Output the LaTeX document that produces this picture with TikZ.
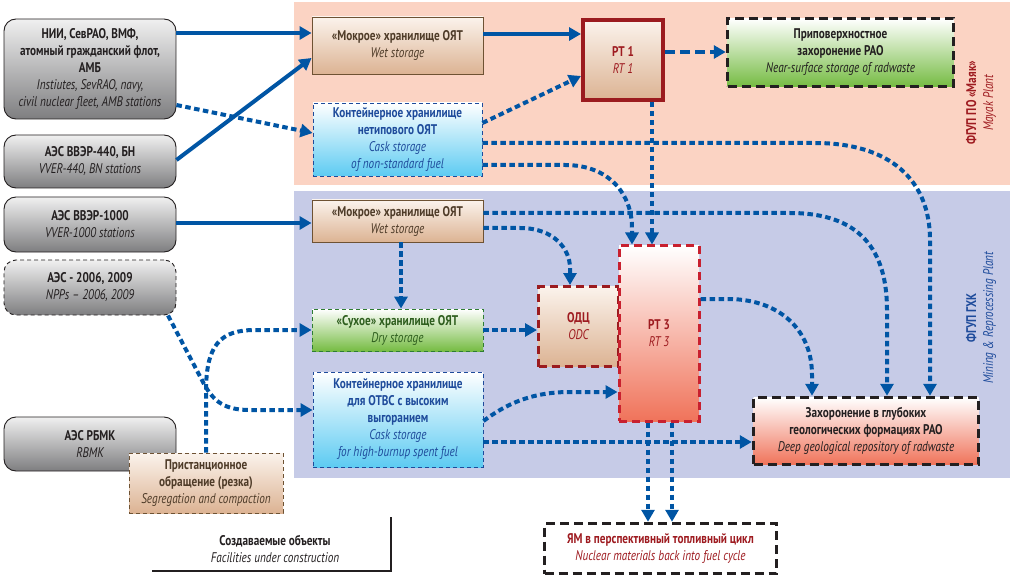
\documentclass[tikz,border=0pt]{standalone}
\usepackage{fontspec}
\setmainfont{PT Sans}[FakeStretch=0.8]
\usepackage{tikz}
\usetikzlibrary{calc,arrows.meta}
\definecolor{mayakBg}{HTML}{FBD3C3}
\definecolor{ghkBg}{HTML}{C6CBE7}
\definecolor{flow}{HTML}{0055A4}
\definecolor{ink}{HTML}{231F20}
\definecolor{brownInk}{HTML}{4E3B28}
\definecolor{blueInk}{HTML}{1E4B9B}
\definecolor{greenInk}{HTML}{2E5E1E}
\definecolor{redInk}{HTML}{9E1B20}
\definecolor{tanTop}{HTML}{FBF3EC}
\definecolor{tanBot}{HTML}{DCB393}
\definecolor{tanEdge}{HTML}{6E5233}
\definecolor{grayTop}{HTML}{F0F0F0}
\definecolor{grayBot}{HTML}{7E7E80}
\definecolor{skyBot}{HTML}{5DCBF2}
\definecolor{leafBot}{HTML}{76BC43}
\definecolor{leafEdge}{HTML}{2E7D32}
\definecolor{salmonBot}{HTML}{F0735A}
\definecolor{rtEdge}{HTML}{9B1B1F}
\definecolor{rtDash}{HTML}{C8202F}
\tikzset{
  unit/.style={inner sep=0pt, align=center, font=\fontsize{14}{17}\selectfont},
  srcBox/.style={unit, draw=ink, line width=0.9pt, rounded corners=12pt, top color=grayTop, bottom color=grayBot, text=ink},
  srcPlan/.style={srcBox, dash pattern=on 4pt off 3pt},
  tanBox/.style={unit, draw=tanEdge, line width=0.9pt, top color=tanTop, bottom color=tanBot, text=brownInk},
  tanPlan/.style={tanBox, dash pattern=on 4pt off 3pt},
  caskBox/.style={unit, draw=blueInk, line width=0.9pt, dash pattern=on 4pt off 3pt, top color=white, bottom color=skyBot, text=blueInk},
  dryBox/.style={unit, draw=leafEdge, line width=0.9pt, dash pattern=on 4pt off 3pt, top color=white, bottom color=leafBot, text=greenInk},
  rtBox/.style={unit, draw=rtEdge, line width=4pt, top color=tanTop, bottom color=tanBot, text=redInk},
  odcBox/.style={unit, draw=rtEdge, line width=3pt, dash pattern=on 8pt off 5pt, top color=tanTop, bottom color=tanBot, text=redInk},
  rtPlan/.style={unit, draw=rtDash, line width=3pt, dash pattern=on 8pt off 5pt, top color=white, bottom color=salmonBot, text=redInk},
  wasteBox/.style={unit, draw=ink, line width=3.5pt, dash pattern=on 9pt off 5pt, text=ink},
  sideLab/.style={align=center, rotate=90, font=\fontsize{14}{17}\selectfont},
  flowSolid/.style={draw=flow, line width=4pt, -{Triangle[length=12pt,width=13pt]}},
  flowDot/.style={draw=flow, line width=4pt, dash pattern=on 5.5pt off 3.5pt, -{Triangle[length=12pt,width=13pt]}},
  flowDash/.style={flowDot, dash pattern=on 10pt off 5pt}
}
\begin{document}
\begin{tikzpicture}[x=1pt,y=-1pt]
  \useasboundingbox (0,0) rectangle (1012,580);

  % plant areas
  \fill[mayakBg] (294,2) rectangle (1010,185);
  \fill[ghkBg] (294,191) rectangle (1010,478);
  \node[sideLab, text=redInk] (mayakLab) at (981,103) {\bfseries ФГУП ПО «Маяк»\\\itshape Mayak Plant};
  \node[sideLab, text=blueInk] (ghkLab) at (981,318) {\bfseries ФГУП ГХК\\\itshape Mining \& Reprocessing Plant};

  % sources
  \node[srcBox, minimum width=172pt, minimum height=100pt] (nii) at (90,69)
    {\bfseries НИИ, СевРАО, ВМФ,\\\bfseries атомный гражданский флот,\\\bfseries АМБ\\\itshape Instiutes, SevRAO, navy,\\\itshape civil nuclear fleet, AMB stations};
  \node[srcBox, minimum width=172pt, minimum height=53pt] (vverA) at (90,161.5)
    {\bfseries АЭС ВВЭР-440, БН\\\itshape VVER-440, BN stations};
  \node[srcBox, minimum width=172pt, minimum height=55pt] (vverB) at (90,224.5)
    {\bfseries АЭС ВВЭР-1000\\\itshape VVER-1000 stations};
  \node[srcPlan, minimum width=172pt, minimum height=55pt] (nppNew) at (90,287.5)
    {\bfseries АЭС - 2006, 2009\\\itshape NPPs – 2006, 2009};
  \node[srcBox, minimum width=172pt, minimum height=54pt] (rbmk) at (90,444)
    {\bfseries АЭС РБМК\\\itshape RBMK};
  \node[tanPlan, minimum width=154pt, minimum height=60pt] (segr) at (206,483)
    {\bfseries Пристанционное\\\bfseries обращение (резка)\\\itshape Segregation and compaction};

  % Mayak
  \node[tanBox, minimum width=171pt, minimum height=57pt] (wetM) at (397.5,45.5)
    {\bfseries «Мокрое» хранилище ОЯТ\\\itshape Wet storage};
  \node[caskBox, minimum width=169pt, minimum height=73pt] (caskM) at (397.5,139.5)
    {\bfseries Контейнерное хранилище\\\bfseries нетипового ОЯТ\\\itshape Cask storage\\\itshape of non-standard fuel};
  \node[rtBox, minimum width=80pt, minimum height=80pt] (rtOne) at (623,60)
    {\bfseries РТ 1\\\itshape RT 1};
  \node[wasteBox, top color=white, bottom color=leafBot, minimum width=226pt, minimum height=68pt] (nearSurf) at (840.5,52.5)
    {\bfseries Приповерхностное\\\bfseries захоронение РАО\\\itshape Near-surface storage of radwaste};

  % GKhK
  \node[tanBox, minimum width=171pt, minimum height=42pt] (wetG) at (397.5,221)
    {\bfseries «Мокрое» хранилище ОЯТ\\\itshape Wet storage};
  \node[dryBox, minimum width=171pt, minimum height=42pt] (dryG) at (397.5,330)
    {\bfseries «Сухое» хранилище ОЯТ\\\itshape Dry storage};
  \node[caskBox, minimum width=170pt, minimum height=95pt] (caskG) at (398,419.5)
    {\bfseries Контейнерное хранилище\\\bfseries для ОТВС с высоким\\\bfseries выгоранием\\\itshape Cask storage\\\itshape for high-burnup spent fuel};
  \node[odcBox, minimum width=80pt, minimum height=80pt] (odc) at (578.5,326.5)
    {\bfseries ОДЦ\\\itshape ODC};
  \node[rtPlan, minimum width=80pt, minimum height=175pt] (rtThree) at (659,333.5)
    {\bfseries РТ 3\\\itshape RT 3};
  \node[wasteBox, top color=white, bottom color=salmonBot, minimum width=225pt, minimum height=67pt] (deepRep) at (866,431)
    {\bfseries Захоронение в глубоких\\\bfseries геологических формациях РАО\\\itshape Deep geological repository of radwaste};
  \node[wasteBox, fill=white, text=redInk, minimum width=232pt, minimum height=50pt] (fuelCycle) at (660.5,548.5)
    {\bfseries ЯМ в перспективный топливный цикл\\\itshape Nuclear materials back into fuel cycle};

  % legend
  \node[unit, text=ink] (legend) at (275,549) {\bfseries Создаваемые объекты\\\itshape Facilities under construction};
  \coordinate (legTop) at (391,517);
  \coordinate (legEnd) at (152,571);
  \draw[ink, line width=2.5pt] (legTop) |- (legEnd);

  % existing routes
  \draw[flowSolid] (nii.east |- 0,33) -- (wetM.west |- 0,33);
  \draw[flowSolid] (vverA.east |- 0,160) -- (wetM.west |- 0,58);
  \draw[flowSolid] (wetM.east |- 0,34) -- (rtOne.west |- 0,34);
  \draw[flowSolid] (vverB.east |- 0,223) -- (wetG.west |- 0,223);

  % planned routes
  \draw[flowDot] (nii.east |- 0,105) -- (caskM.west |- 0,133);
  \draw[flowDot] (caskM.east |- 0,123) -- (rtOne.west |- 0,76);
  \draw[flowDash] (rtOne.east |- 0,52) -- (nearSurf.west |- 0,52);
  \draw[flowDot] (caskM.east |- 0,143) -- (815,143) .. controls (890,143) and (930,180) .. (930,240) -- (deepRep.north -| 930,0);
  \draw[flowDot] (wetG.east |- 0,213) -- (790,213) .. controls (860,213) and (887,250) .. (887,310) -- (deepRep.north -| 887,0);
  \draw[flowDot] (rtThree.east |- 0,299) -- (730,299) .. controls (780,300) and (812,330) .. (812,375) -- (deepRep.north -| 812,0);
  \draw[flowDot] (caskM.east |- 0,165) -- (565,165) .. controls (610,165) and (632,195) .. (632,228) -- (rtThree.north -| 632,0);
  \draw[flowDot] (rtOne.south -| 652,0) -- (rtThree.north -| 652,0);
  \draw[flowDot] (wetG.east |- 0,228) -- (520,228) .. controls (555,228) and (570,250) .. (570,268) -- (odc.north -| 570,0);
  \draw[flowDot] (wetG.south -| 401,0) -- (dryG.north -| 401,0);
  \draw[flowDot] (dryG.east |- 0,330) -- (odc.west |- 0,330);
  \draw[flowDot] (caskG.east |- 0,421) .. controls (505,405) and (530,392) .. (570,392) -- (rtThree.west |- 0,392);
  \draw[flowDot] (caskG.east |- 0,442) -- (deepRep.west |- 0,442);
  \draw[flowDot] (rtThree.south -| 648,0) -- (fuelCycle.north -| 648,0);
  \draw[flowDot] (rtThree.south -| 672,0) -- (fuelCycle.north -| 672,0);
  \draw[flowDot] (nppNew.south -| 168,0) -- (204,384) .. controls (214,402) and (225,410) .. (250,410) -- (caskG.west |- 0,410);
  \draw[flowDot] (segr.north -| 206,0) -- (206,392) .. controls (206,345) and (220,330) .. (255,330) -- (dryG.west |- 0,330);
\end{tikzpicture}
\end{document}
